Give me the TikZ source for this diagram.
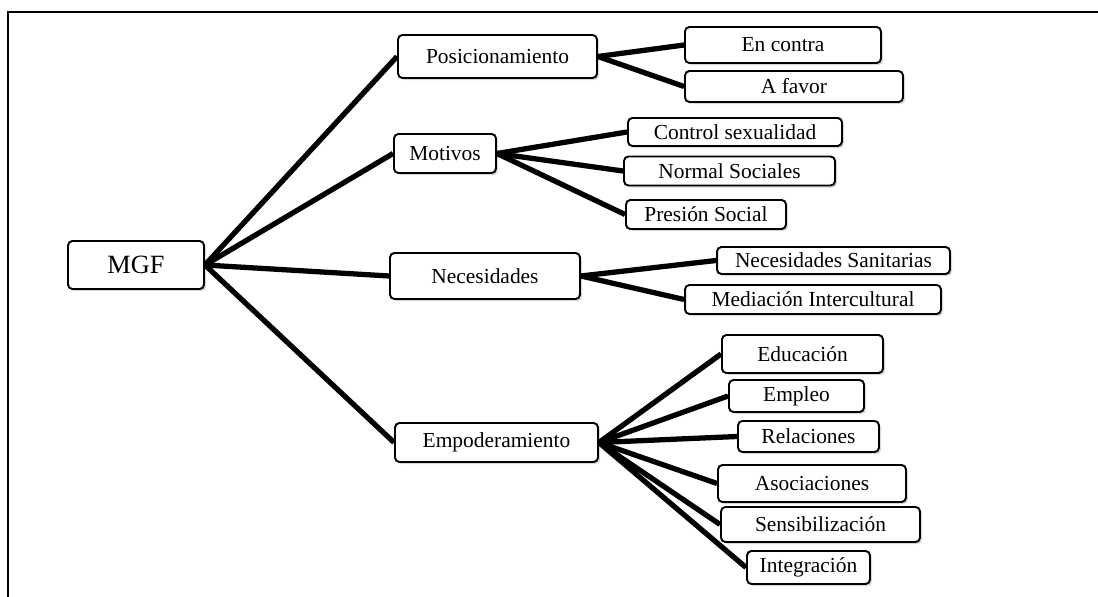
\documentclass[tikz,border=0pt]{standalone}
\usepackage{fontspec}
\setmainfont{Liberation Serif}
\usepackage{tikz}
\usetikzlibrary{shadows}

\tikzset{
  caja/.style={draw, line width=1.1pt, rounded corners=2.5pt, fill=white, inner sep=1pt,
    drop shadow={shadow xshift=1.2pt, shadow yshift=-1.2pt, fill=black!30},
    font=\fontsize{12.2}{14}\selectfont},
  rama/.style={line width=3pt},
}

\begin{document}
\begin{tikzpicture}[x=0.02cm, y=-0.02cm]
    \useasboundingbox (0,0) rectangle (1098,597);

    % 枠
    \draw[line width=1.2pt] (8,597) -- (8,12) -- (1098,12);

    % 中心
    \node[caja, minimum width=2.72cm, minimum height=0.96cm, font=\fontsize{15}{18}\selectfont] (mgf) at (136,265) {MGF};

    % 第一層
    \node[caja, minimum width=3.98cm, minimum height=0.86cm] (posic) at (497.5,56.5) {Posicionamiento};
    \node[caja, minimum width=2.04cm, minimum height=0.78cm] (motiv) at (445,153.5) {Motivos};
    \node[caja, minimum width=3.8cm, minimum height=0.92cm] (neces) at (485,276) {Necesidades};
    \node[caja, minimum width=4.06cm, minimum height=0.78cm] (empod) at (496.5,442.5) {Empoderamiento};

    % 第二層
    \node[caja, minimum width=3.92cm, minimum height=0.72cm] (contra) at (783,45) {En contra};
    \node[caja, minimum width=4.36cm, minimum height=0.62cm] (favor) at (794,86.5) {A favor};
    \node[caja, minimum width=4.28cm, minimum height=0.56cm] (control) at (735,132) {Control sexualidad};
    \node[caja, minimum width=4.22cm, minimum height=0.58cm] (normal) at (729.5,171) {Normal Sociales};
    \node[caja, minimum width=3.2cm, minimum height=0.58cm] (presion) at (706,214.5) {Presión Social};
    \node[caja, minimum width=4.66cm, minimum height=0.54cm] (sanit) at (833.5,260.5) {Necesidades Sanitarias};
    \node[caja, minimum width=5.12cm, minimum height=0.58cm] (mediac) at (813,299.5) {Mediación Intercultural};
    \node[caja, minimum width=3.22cm, minimum height=0.76cm] (educ) at (802.5,354) {Educación};
    \node[caja, minimum width=2.7cm, minimum height=0.64cm] (empleo) at (796.5,396) {Empleo};
    \node[caja, minimum width=2.82cm, minimum height=0.62cm] (relac) at (808.5,436.5) {Relaciones};
    \node[caja, minimum width=3.76cm, minimum height=0.74cm] (asoc) at (812,483.5) {Asociaciones};
    \node[caja, minimum width=3.98cm, minimum height=0.7cm] (sensib) at (820.5,524.5) {Sensibilización};
    \node[caja, minimum width=2.46cm, minimum height=0.66cm] (integ) at (808.5,567.5) {Integración};

    % 線
    \draw[rama] (mgf.east) -- (posic.west);
    \draw[rama] (mgf.east) -- (motiv.west);
    \draw[rama] (mgf.east) -- (neces.west);
    \draw[rama] (mgf.east) -- (empod.west);

    \draw[rama] (posic.east) -- (contra.west);
    \draw[rama] (posic.east) -- (favor.west);
    \draw[rama] (motiv.east) -- (control.west);
    \draw[rama] (motiv.east) -- (normal.west);
    \draw[rama] (motiv.east) -- (presion.west);
    \draw[rama] (neces.east) -- (sanit.west);
    \draw[rama] (neces.east) -- (mediac.west);
    \draw[rama] (empod.east) -- (educ.west);
    \draw[rama] (empod.east) -- (empleo.west);
    \draw[rama] (empod.east) -- (relac.west);
    \draw[rama] (empod.east) -- (asoc.west);
    \draw[rama] (empod.east) -- (sensib.west);
    \draw[rama] (empod.east) -- (integ.west);

\end{tikzpicture}
\end{document}
